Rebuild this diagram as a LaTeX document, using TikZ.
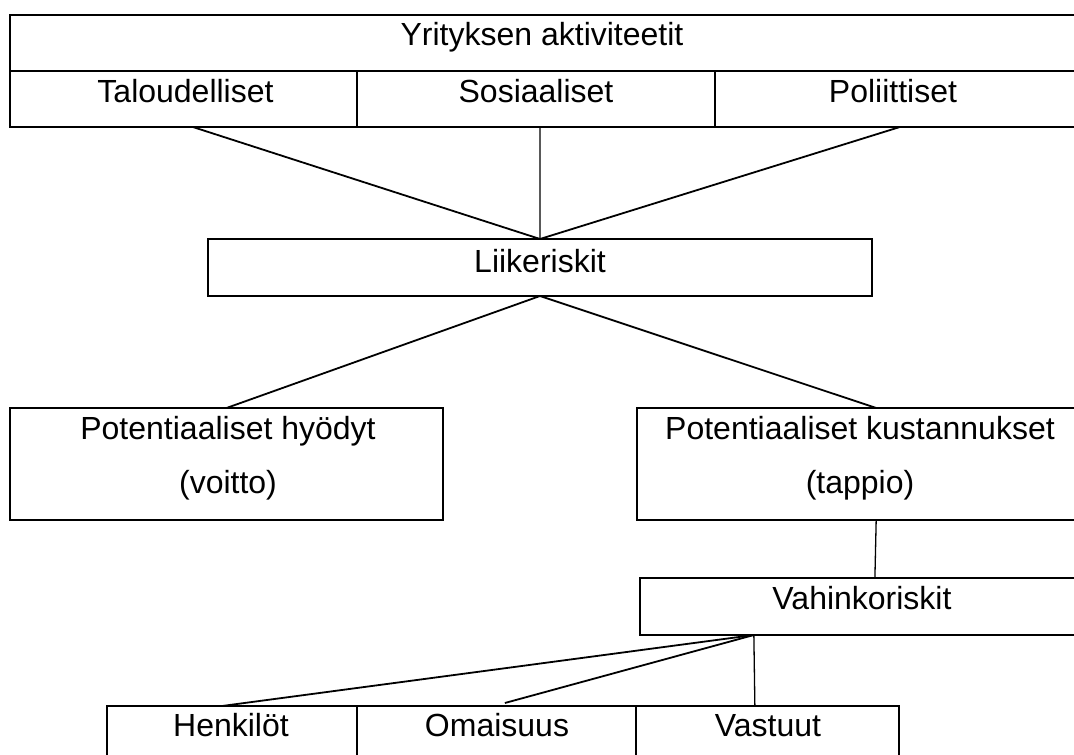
\documentclass[tikz,border=0pt]{standalone}
\usepackage{fontspec}
\setmainfont{Liberation Sans}
\usetikzlibrary{calc}
\tikzset{
  cell/.style={draw, line width=2.4pt, rectangle, anchor=north west, inner sep=0pt, outer sep=0pt},
  txt/.style={anchor=base, inner sep=0pt, font=\fontsize{32}{38}\selectfont},
  conn/.style={line width=1.8pt},
  vconn/.style={line width=1.3pt}
}
\begin{document}
\begin{tikzpicture}[x=1pt,y=-1pt]
\clip (0,0) rectangle (1074,755);
\fill[white] (0,0) rectangle (1074,755);
% boxes
\node[cell, minimum width=1080pt, minimum height=56pt] (topbox) at (10,15) {};
\node[cell, minimum width=347pt, minimum height=56pt] (tal) at (10,71) {};
\node[cell, minimum width=358pt, minimum height=56pt] (sos) at (357,71) {};
\node[cell, minimum width=375pt, minimum height=56pt] (pol) at (715,71) {};
\node[cell, minimum width=664pt, minimum height=57pt] (lii) at (208,239) {};
\node[cell, minimum width=433pt, minimum height=112pt] (ph) at (10,408) {};
\node[cell, minimum width=453pt, minimum height=112pt] (pk) at (637,408) {};
\node[cell, minimum width=450pt, minimum height=57pt] (vah) at (640,578) {};
\node[cell, minimum width=250pt, minimum height=60pt] (hen) at (107,706) {};
\node[cell, minimum width=279pt, minimum height=60pt] (oma) at (357,706) {};
\node[cell, minimum width=263pt, minimum height=60pt] (vas) at (636,706) {};
% texts
\node[txt] (t-top) at (542,45) {Yrityksen aktiviteetit};
\node[txt] (t-tal) at (185.5,102) {Taloudelliset};
\node[txt] (t-sos) at (536,102) {Sosiaaliset};
\node[txt] (t-pol) at (893,102) {Poliittiset};
\node[txt] (t-lii) at (540,272) {Liikeriskit};
\node[txt] (t-ph1) at (228,439) {Potentiaaliset hyödyt};
\node[txt] (t-ph2) at (228,493) {(voitto)};
\node[txt] (t-pk1) at (860,439) {Potentiaaliset kustannukset};
\node[txt] (t-pk2) at (860,493) {(tappio)};
\node[txt] (t-vah) at (862,609) {Vahinkoriskit};
\node[txt] (t-hen) at (231,736) {Henkilöt};
\node[txt] (t-oma) at (497,736) {Omaisuus};
\node[txt] (t-vas) at (768,736) {Vastuut};
% connectors
\draw[conn] ($(tal.south west)!0.527!(tal.south east)$) -- (lii.north);
\draw[vconn] ($(sos.south west)!0.511!(sos.south east)$) -- (lii.north);
\draw[conn] ($(pol.south west)!0.493!(pol.south east)$) -- (lii.north);
\draw[conn] (lii.south) -- (ph.north);
\draw[conn] (lii.south) -- ($(pk.north west)!0.528!(pk.north east)$);
\draw[vconn] ($(pk.south west)!0.528!(pk.south east)$) -- ($(vah.north west)!0.522!(vah.north east)$);
\coordinate (vb) at ($(vah.south west)!0.253!(vah.south east)$);
\draw[conn] (vb) -- ($(hen.north west)!0.46!(hen.north east)$);
\draw[conn] (vb) -- ($(oma.north west)!0.53!(oma.north east)+(0,-3)$);
\draw[vconn] (vb) -- ($(vas.north west)!0.452!(vas.north east)$);
\end{tikzpicture}
\end{document}
